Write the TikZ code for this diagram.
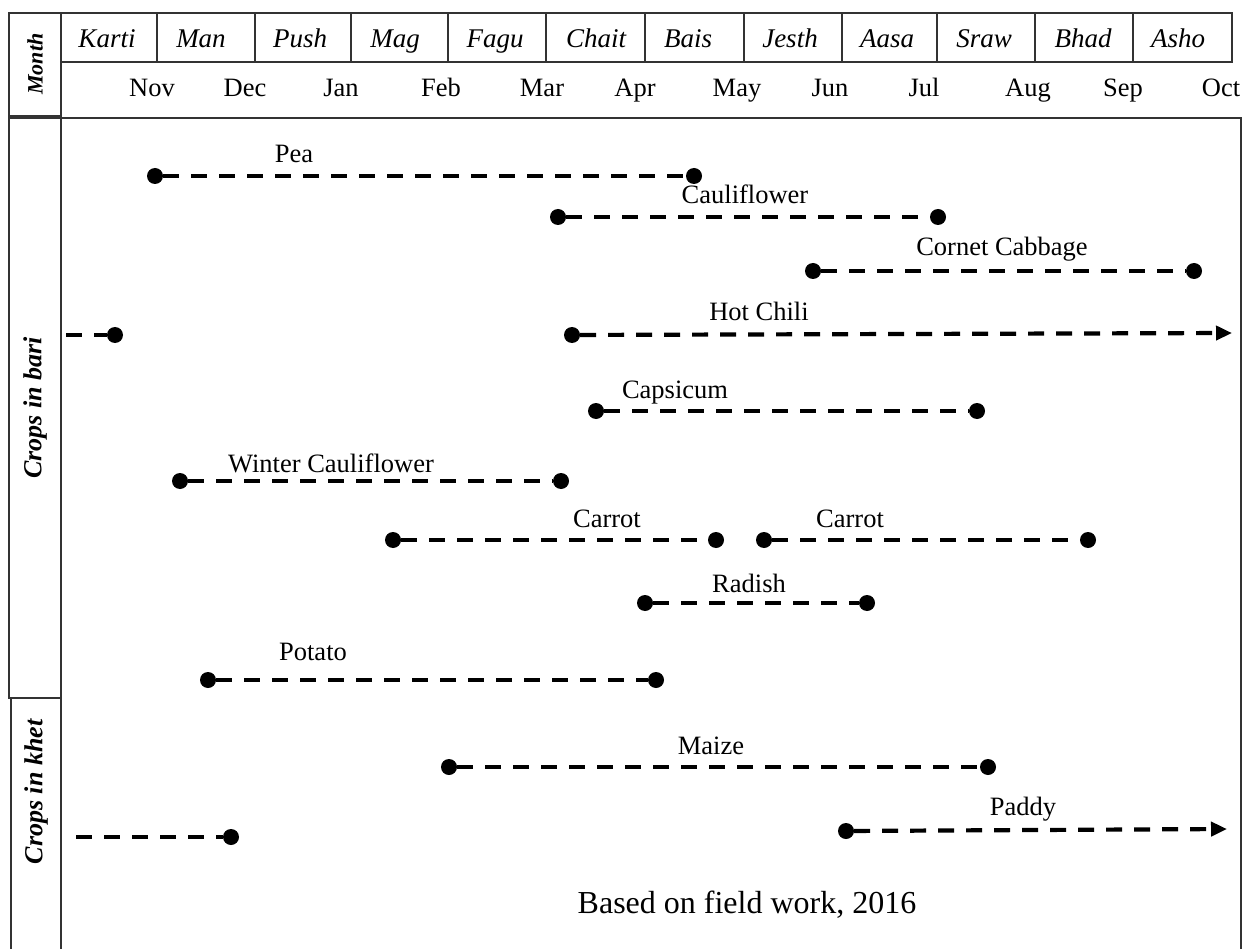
\documentclass[tikz,border=0pt]{standalone}
\usepackage{fontspec}
\setmainfont{Liberation Serif}
\usetikzlibrary{arrows.meta}
\tikzset{
  frame/.style={draw=black!80, line width=1.3pt},
  cropdot/.style={circle, fill=black, minimum size=16pt, inner sep=0pt},
  period/.style={draw=black, line width=4.2pt, dash pattern=on 16pt off 12pt},
  carry/.style={period, -{Triangle[length=16pt,width=14pt]}},
  croplabel/.style={anchor=base, inner sep=0pt, font=\fontsize{26.5}{30}\selectfont},
  nepmonth/.style={anchor=base, inner sep=0pt, font=\fontsize{27}{30}\selectfont\itshape},
  engmonth/.style={anchor=base, inner sep=0pt, font=\fontsize{26.5}{30}\selectfont},
  sidelabel/.style={rotate=90, inner sep=0pt, font=\bfseries\itshape},
}
\begin{document}
\begin{tikzpicture}[x=1pt, y=-1pt]
\useasboundingbox (0,0) rectangle (1252,949);

% left column boxes
\draw[frame] (9,13) rectangle (61,116);
\draw[frame] (9,118) rectangle (61,698);
\draw[frame] (11,698) rectangle (61,970);
\node[sidelabel, font=\fontsize{22}{26}\selectfont\bfseries\itshape] (lblMonth) at (35,64) {Month};
\node[sidelabel, font=\fontsize{26}{30}\selectfont\bfseries\itshape] (lblBari) at (35,408) {Crops in bari};
\node[sidelabel, font=\fontsize{26}{30}\selectfont\bfseries\itshape] (lblKhet) at (36,792) {Crops in khet};

% Nepali month header
\draw[frame] (61,13) rectangle (1232,62);
\foreach \xx in {157,255,351,448,546,645,744,842,937,1035,1133}
  \draw[frame] (\xx,13) -- (\xx,62);
\foreach \name/\xx [count=\i] in {Karti/107,Man/201,Push/300,Mag/395,Fagu/495,Chait/596,Bais/688,Jesth/790,Aasa/887,Sraw/984,Bhad/1083,Asho/1178}
  \node[nepmonth] (nep\i) at (\xx,48) {\name};

% English months
\foreach \name/\xx [count=\i] in {Nov/152,Dec/245,Jan/341,Feb/441,Mar/542,Apr/635,May/737,Jun/830,Jul/924,Aug/1028,Sep/1123,Oct/1221}
  \node[engmonth] (eng\i) at (\xx,97) {\name};

% main chart frame
\draw[frame] (61,118) rectangle (1241,970);

% Pea
\node[cropdot] (peaA) at (155,176) {};
\node[cropdot] (peaB) at (694,176) {};
\draw[period] (peaA) -- (peaB);
\node[croplabel] (peaL) at (294,163) {Pea};

% Cauliflower
\node[cropdot] (cauA) at (558,217) {};
\node[cropdot] (cauB) at (938,217) {};
\draw[period] (cauA) -- (cauB);
\node[croplabel] (cauL) at (745,204) {Cauliflower};

% Cornet Cabbage
\node[cropdot] (cabA) at (813,271) {};
\node[cropdot] (cabB) at (1194,271) {};
\draw[period] (cabA) -- (cabB);
\node[croplabel] (cabL) at (1002,256) {Cornet Cabbage};

% Hot Chili
\coordinate (chiIn) at (66,335);
\node[cropdot] (chiA) at (115,335) {};
\draw[period] (chiIn) -- (chiA);
\node[cropdot] (chiB) at (572,335) {};
\coordinate (chiOut) at (1232,333);
\draw[carry] (chiB) -- (chiOut);
\node[croplabel] (chiL) at (759,320) {Hot Chili};

% Capsicum
\node[cropdot] (capA) at (596,411) {};
\node[cropdot] (capB) at (977,411) {};
\draw[period] (capA) -- (capB);
\node[croplabel] (capL) at (675,398) {Capsicum};

% Winter Cauliflower
\node[cropdot] (wcaA) at (180,481) {};
\node[cropdot] (wcaB) at (561,481) {};
\draw[period] (wcaA) -- (wcaB);
\node[croplabel] (wcaL) at (331,472) {Winter Cauliflower};

% Carrot (two seasons)
\node[cropdot] (carA) at (393,540) {};
\node[cropdot] (carB) at (716,540) {};
\draw[period] (carA) -- (carB);
\node[croplabel] (carL) at (607,527) {Carrot};
\node[cropdot] (carC) at (764,540) {};
\node[cropdot] (carD) at (1088,540) {};
\draw[period] (carC) -- (carD);
\node[croplabel] (carM) at (850,527) {Carrot};

% Radish
\node[cropdot] (radA) at (645,603) {};
\node[cropdot] (radB) at (867,603) {};
\draw[period] (radA) -- (radB);
\node[croplabel] (radL) at (749,592) {Radish};

% Potato
\node[cropdot] (potA) at (208,680) {};
\node[cropdot] (potB) at (656,680) {};
\draw[period] (potA) -- (potB);
\node[croplabel] (potL) at (313,660) {Potato};

% Maize
\node[cropdot] (maiA) at (449,767) {};
\node[cropdot] (maiB) at (988,767) {};
\draw[period] (maiA) -- (maiB);
\node[croplabel] (maiL) at (711,754) {Maize};

% Paddy
\coordinate (padIn) at (76,837);
\node[cropdot] (padA) at (231,837) {};
\draw[period] (padIn) -- (padA);
\node[cropdot] (padB) at (846,831) {};
\coordinate (padOut) at (1227,829);
\draw[carry] (padB) -- (padOut);
\node[croplabel] (padL) at (1023,815) {Paddy};

% source note
\node[anchor=base, inner sep=0pt, font=\fontsize{32}{36}\selectfont] (source) at (747,913) {Based on field work, 2016};
\end{tikzpicture}
\end{document}
